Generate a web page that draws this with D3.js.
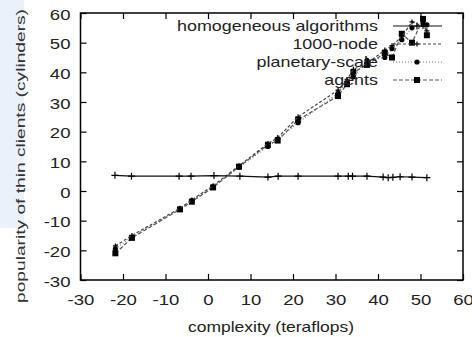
<!DOCTYPE html>
<html>
<head>
<meta charset="utf-8">
<script src="https://cdn.jsdelivr.net/npm/d3@7"></script>
<style>
  body { margin: 0; background: #fff; }
  svg { display: block; font-family: "Liberation Sans", Arial, sans-serif; }
</style>
</head>
<body>
<svg width="472" height="337"></svg>
<script>
var svg = d3.select("svg");

// x values (teraflops) shared by the series
var xFlat = [-21.9, -18, -6.8, -4, 1.4, 7.5, 14.1, 16.5, 21.2, 30.6, 33, 34, 37.4, 41.2, 42.4, 43.5, 45.2, 48, 51.5];
var homogeneous = [5.3, 5.0, 5.0, 5.0, 5.2, 5.0, 4.7, 5.0, 5.0, 5.0, 5.0, 5.0, 5.0, 4.7, 4.5, 4.6, 4.8, 4.7, 4.5];

var xDiag = [-21.8, -17.9, -6.6, -3.8, 1.2, 7.3, 14.1, 16.4, 21.2, 30.6, 32.7, 34.2, 37.4, 41.6, 43.3, 45.6, 48.0, 50.6, 51.5];
var node1000 = [-18.5, -15.0, -5.8, -3.0, 1.8, 8.5, 16.0, 18.0, 25.0, 34.0, 37.5, 41.0, 43.0, 47.5, 49.0, 52.0, 57.0, 55.5, 54.0];
var planetary = [-19.5, -15.5, -6.0, -3.2, 1.5, 8.0, 15.0, 17.5, 23.0, 33.0, 36.5, 38.5, 44.0, 45.0, 48.0, 51.0, 55.0, 56.5, 56.0];
var agents = [-21.0, -15.8, -6.2, -3.6, 1.2, 8.2, 15.6, 17.0, 24.0, 32.0, 36.0, 40.0, 42.5, 46.5, 45.0, 53.0, 50.0, 58.0, 52.5];

var xTicks = [-30, -20, -10, 0, 10, 20, 30, 40, 50, 60];
var yTicks = [-30, -20, -10, 0, 10, 20, 30, 40, 50, 60];
var legendNames = ["homogeneous algorithms", "1000-node", "planetary-scale", "agents"];

var plotLeft = 80.5, plotRight = 463, plotTop = 13, plotBottom = 280;
var x = d3.scaleLinear().domain([-30, 60]).range([plotLeft, plotRight]);
var y = d3.scaleLinear().domain([-30, 60]).range([plotBottom, plotTop]);

// faint blue strip on the left edge of the scan
svg.append("rect").attr("x", 0).attr("y", 0).attr("width", 24).attr("height", 228)
  .attr("fill", "#eaf1fb");

function plus(s) { return "M" + (-s) + ",0H" + s + "M0," + (-s) + "V" + s; }
function square(s) { return "M" + (-s) + "," + (-s) + "h" + (2*s) + "v" + (2*s) + "h" + (-2*s) + "Z"; }

var series = [
  {name: legendNames[0], xs: xFlat, ys: homogeneous, stroke: "#111", dash: null, marker: plus(3.5), fill: "none", mstroke: "#000"},
  {name: legendNames[1], xs: xDiag, ys: node1000, stroke: "#444", dash: "3,2", marker: plus(2.5), fill: "none", mstroke: "#000"},
  {name: legendNames[2], xs: xDiag, ys: planetary, stroke: "#777", dash: "1,2", marker: "M-2.6,0a2.6,2.6 0 1,0 5.2,0a2.6,2.6 0 1,0 -5.2,0", fill: "#000", mstroke: "none"},
  {name: legendNames[3], xs: xDiag, ys: agents, stroke: "#555", dash: "4,2", marker: square(3), fill: "#000", mstroke: "none"}
];

var line = d3.line().x(function(d) { return x(d[0]); }).y(function(d) { return y(d[1]); });

series.slice().reverse().forEach(function(s) {
  var pts = s.xs.map(function(v, i) { return [v, s.ys[i]]; });
  svg.append("path").attr("d", line(pts)).attr("fill", "none")
    .attr("stroke", s.stroke).attr("stroke-width", 1.2)
    .attr("stroke-dasharray", s.dash);
  svg.selectAll(null).data(pts).enter().append("path")
    .attr("transform", function(d) { return "translate(" + x(d[0]) + "," + y(d[1]) + ")"; })
    .attr("d", s.marker).attr("fill", s.fill).attr("stroke", s.mstroke).attr("stroke-width", 1.2);
});

// axes, ticks pointing inward on all four sides
var sx = 1.28;
var fmt = function(d) { return String(d); };
var gB = svg.append("g").attr("transform", "translate(0," + plotBottom + ")")
  .call(d3.axisBottom(x).tickValues(xTicks).tickSize(-6).tickPadding(15).tickFormat(fmt));
var gL = svg.append("g").attr("transform", "translate(" + plotLeft + ",0)")
  .call(d3.axisLeft(y).tickValues(yTicks).tickSize(-6).tickPadding(10).tickFormat(fmt));
var gT = svg.append("g").attr("transform", "translate(0," + plotTop + ")")
  .call(d3.axisTop(x).tickValues(xTicks).tickSize(-6).tickFormat(""));
var gR = svg.append("g").attr("transform", "translate(" + plotRight + ",0)")
  .call(d3.axisRight(y).tickValues(yTicks).tickSize(-6).tickFormat(""));

[gB, gL, gT, gR].forEach(function(g) {
  g.select(".domain").remove();
  g.selectAll("line").attr("stroke", "#000").attr("stroke-width", 1.2);
  g.selectAll("text").attr("font-size", 14.5).attr("fill", "#222")
    .attr("font-family", "Liberation Sans, Arial, sans-serif");
});
gB.selectAll("text").attr("transform", "scale(" + sx + ",1)");
gL.selectAll("text").attr("transform", "translate(0,1.5) scale(" + sx + ",1)").attr("x", -10 / sx);

svg.append("rect").attr("x", plotLeft).attr("y", plotTop)
  .attr("width", plotRight - plotLeft).attr("height", plotBottom - plotTop)
  .attr("fill", "none").attr("stroke", "#000").attr("stroke-width", 1.5);

// legend
var legY = [26, 44, 62, 80];
series.forEach(function(s, i) {
  var g = svg.append("g").attr("transform", "translate(0," + legY[i] + ")");
  g.append("text").attr("transform", "translate(378,0) scale(1.28,1)")
    .attr("text-anchor", "end").attr("dy", "0.35em").attr("font-size", 14).attr("fill", "#222")
    .text(s.name);
  g.append("line").attr("x1", 393).attr("x2", 442).attr("y1", 0).attr("y2", 0)
    .attr("stroke", s.stroke).attr("stroke-width", 1.2).attr("stroke-dasharray", s.dash);
  g.append("path").attr("transform", "translate(417,0)").attr("d", s.marker)
    .attr("fill", s.fill).attr("stroke", s.mstroke).attr("stroke-width", 1.2);
});

// axis titles
svg.append("text").attr("transform", "translate(271,332) scale(1.25,1)")
  .attr("text-anchor", "middle").attr("font-size", 14).attr("fill", "#222")
  .text("complexity (teraflops)");
svg.append("text").attr("transform", "translate(25,156) rotate(-90)")
  .attr("text-anchor", "middle").attr("font-size", 13).attr("fill", "#333")
  .attr("textLength", 294).attr("lengthAdjust", "spacingAndGlyphs")
  .text("popularity of thin clients  (cylinders)");
</script>
</body>
</html>
